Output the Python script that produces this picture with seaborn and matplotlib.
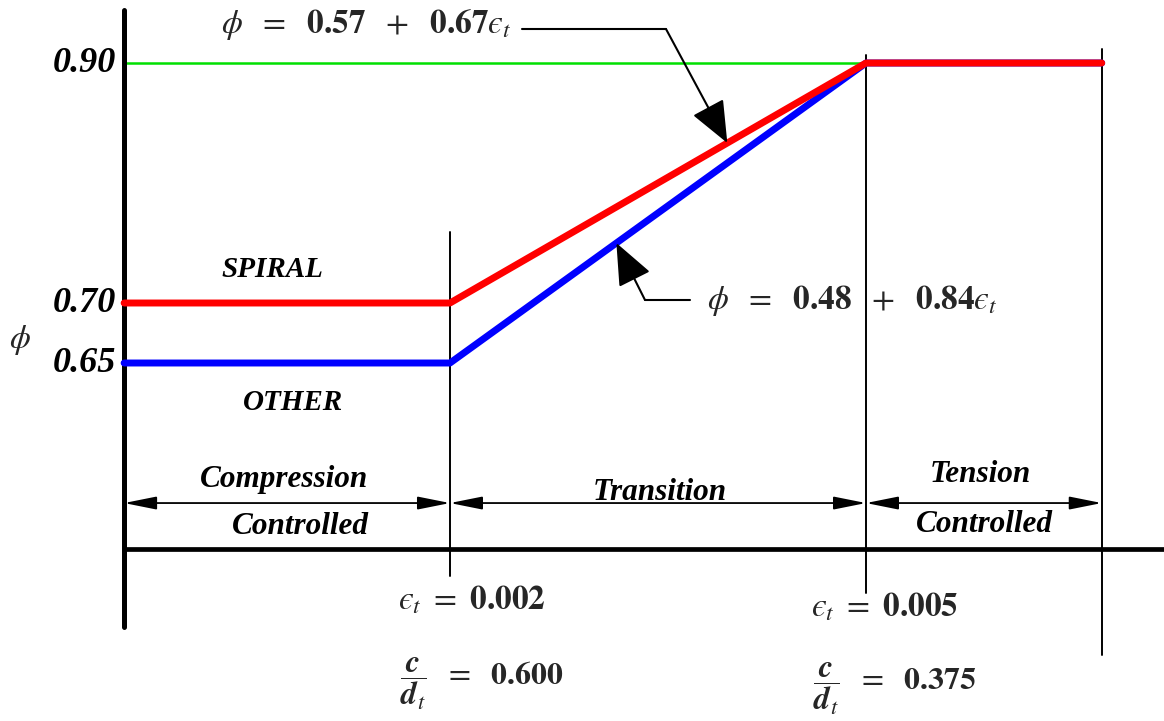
import numpy as np
import pandas as pd
import matplotlib.pyplot as plt
import seaborn as sns
from matplotlib.lines import Line2D

# strength reduction factor phi vs net tensile strain
strain = [-0.00035, 0.002, 0.005, 0.0067]
phi_spiral = [0.70, 0.70, 0.90, 0.90]
phi_other = [0.65, 0.65, 0.90, 0.90]
phi_ticks = [0.90, 0.70, 0.65]
zone_top = ['Compression', 'Transition', 'Tension']
zone_bottom = ['Controlled', '', 'Controlled']
eps_limits = [0.002, 0.005]
c_over_dt = [0.600, 0.375]

sns.set_style('white')
plt.rcParams['mathtext.fontset'] = 'stix'
plt.rcParams['font.family'] = ['Liberation Serif', 'DejaVu Serif']

W, H = 1164, 721
fig = plt.figure(figsize=(W / 100, H / 100), dpi=100)
ax = fig.add_axes([0, 0, 1, 1])
ax.set_axis_off()


def P(x, y):
    """pixel position (from top-left) -> figure fraction"""
    return x / W, 1 - y / H


def fy(y):
    return 1 - y / H


df = pd.DataFrame({'strain': strain * 2,
                   'phi': phi_other + phi_spiral,
                   'member': ['OTHER'] * 4 + ['SPIRAL'] * 4})

# green 0.90 reference line
ax.plot([strain[0], strain[-1]], [0.90, 0.90], color='#00e000', lw=1.8, zorder=1)
sns.lineplot(data=df, x='strain', y='phi', hue='member', hue_order=['OTHER', 'SPIRAL'],
             palette={'OTHER': '#0000ff', 'SPIRAL': '#ff0000'}, linewidth=5,
             solid_capstyle='round', sort=False, legend=False, ax=ax, zorder=3)

ax.set_xlim(-0.001245, 0.007149)
ax.set_ylim(0.35167, 0.9525)

# frame lines
ax.axvline(strain[0], ymin=fy(627), ymax=fy(10), color='k', lw=3.6, solid_capstyle='round')
ax.axhline(0.495, xmin=(125 / W), xmax=1, color='k', lw=3.4)
ax.axvline(strain[1], ymin=fy(576), ymax=fy(232), color='k', lw=1.4)
ax.axvline(strain[2], ymin=fy(593), ymax=fy(55), color='k', lw=1.4)
ax.axvline(strain[3], ymin=fy(655), ymax=fy(49), color='k', lw=1.4)

bold_it = dict(fontweight='bold', fontstyle='italic', color='k')

# phi tick labels
for v in phi_ticks:
    ax.annotate(f'{v:.2f}', xy=(strain[0], v), xytext=(-6, 0), textcoords='offset points',
                ha='right', va='center', fontsize=26, **bold_it)

fig.text(*P(20, 340), r'$\phi$', fontsize=24, ha='center', va='center')
fig.text(*P(272, 269), 'SPIRAL', fontsize=21, ha='center', va='center', **bold_it)
fig.text(*P(293, 403), 'OTHER', fontsize=21, ha='center', va='center', **bold_it)

# zone arrows and labels
y_arrow = 0.5333
for i in range(3):
    ax.annotate('', xy=(strain[i + 1], y_arrow), xytext=(strain[i], y_arrow),
                arrowprops=dict(arrowstyle='<|-|>,head_length=1.1,head_width=0.22',
                                color='k', lw=1.3, mutation_scale=18, shrinkA=0, shrinkB=0))
zfs = 22.5
fig.text(*P(284, 479), zone_top[0], fontsize=zfs, ha='center', va='center', **bold_it)
fig.text(*P(300, 526), zone_bottom[0], fontsize=zfs, ha='center', va='center', **bold_it)
fig.text(*P(660, 492), zone_top[1], fontsize=zfs, ha='center', va='center', **bold_it)
fig.text(*P(980, 474), zone_top[2], fontsize=zfs, ha='center', va='center', **bold_it)
fig.text(*P(984, 524), zone_bottom[2], fontsize=zfs, ha='center', va='center', **bold_it)

# equation callouts
arrow_kw = dict(arrowstyle='-|>,head_length=1.2,head_width=0.5', color='k', lw=1.5,
                mutation_scale=22, shrinkA=0, shrinkB=0)
tip1 = (0.004, np.interp(0.004, strain, phi_spiral))
ax.annotate('', xy=tip1, xytext=(666, H - 29), textcoords='figure pixels', arrowprops=arrow_kw)
fig.add_artist(Line2D([522 / W, 666 / W], [fy(29), fy(29)], color='k', lw=1.5))
fig.text(*P(366, 24), r'$\phi\ \ =\ \ \mathbf{0.57}\ \ +\ \ \mathbf{0.67}ϵ_t$',
         fontsize=24, ha='center', va='center')

tip2 = (0.0032, np.interp(0.0032, strain, phi_other))
ax.annotate('', xy=tip2, xytext=(645, H - 300), textcoords='figure pixels', arrowprops=arrow_kw)
fig.add_artist(Line2D([645 / W, 690 / W], [fy(300), fy(300)], color='k', lw=1.5))
fig.text(*P(852, 300), r'$\phi\ \ =\ \ \mathbf{0.48}\ \ +\ \ \mathbf{0.84}ϵ_t$',
         fontsize=24, ha='center', va='center')

# strain limits and c/dt
for e, c, x, y1, y2 in zip(eps_limits, c_over_dt, [472, 885], [600, 607], [684, 689]):
    fig.text(*P(x, y1), r'$ϵ_t\ =\ \mathbf{%.3f}$' % e, fontsize=24, ha='center', va='center')
    fig.text(*P(x + 10, y2), r'$\dfrac{\mathbfit{c}}{\mathbfit{d}_t}\ \ =\ \ \mathbf{%.3f}$' % c,
             fontsize=23, ha='center', va='center')

plt.savefig('out.png', dpi=100)
